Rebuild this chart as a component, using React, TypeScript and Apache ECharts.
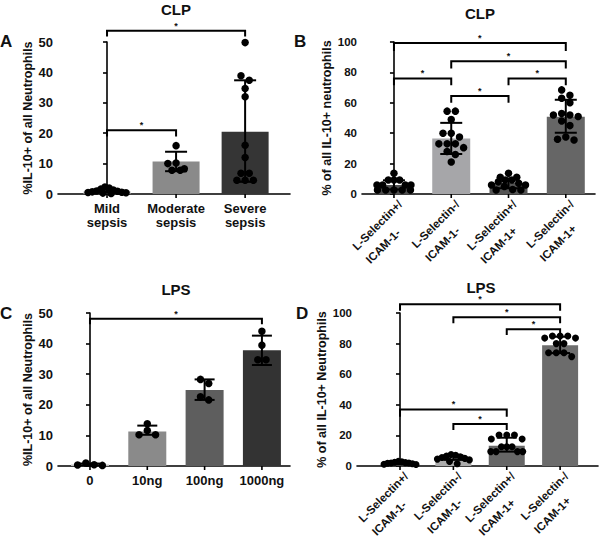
import React, { useEffect, useRef } from "react";
import * as echarts from "echarts";

const FONT = "'Liberation Sans', Arial, sans-serif";

// ---------- Panel A (CLP, sepsis severity) ----------
const aCategories = ["Mild\nsepsis", "Moderate\nsepsis", "Severe\nsepsis"];
const aMeans = [0.9, 10.7, 20.5];
const aErrLow = [0.4, 7.5, 4.0];
const aErrHigh = [1.5, 13.9, 37.4];
const aDots = [
  [2.3, 2.0, 1.6, 1.3, 1.0, 0.9, 0.7, 0.6, 0.5, 0.4, 0.3, 0.2],
  [15.9, 10.2, 10.0, 8.3, 7.8, 7.8],
  [49.8, 38.9, 37.4, 34.7, 32.0, 16.0, 12.0, 6.8, 6.8, 4.5, 4.5, 4.5],
];
const aBrackets = [
  [0, 2, 53.7, 51.8],
  [0, 1, 21.0, 18.9],
];

// ---------- Panel B (CLP, L-Selectin / ICAM-1) ----------
const bCategories = ["L-Selectin+/\nICAM-1-", "L-Selectin-/\nICAM-1-", "L-Selectin+/\nICAM-1+", "L-Selectin-/\nICAM-1+"];
const bMeans = [5.9, 36.5, 7.2, 50.8];
const bErrLow = [3.0, 26.3, 3.8, 40.3];
const bErrHigh = [9.0, 46.8, 10.3, 62.0];
const bDots = [
  [13.6, 9.2, 9.2, 9.2, 5.9, 5.9, 5.9, 5.9, 2.6, 2.6, 2.6, 2.6, 2.6],
  [54.5, 54.5, 49.0, 40.0, 40.0, 37.5, 33.0, 33.0, 33.0, 30.5, 28.0, 26.0, 21.0],
  [13.6, 11.0, 11.0, 9.2, 9.2, 8.0, 7.0, 5.9, 5.9, 5.0, 3.0, 2.6, 2.6],
  [68.5, 65.0, 63.0, 60.0, 53.0, 52.0, 52.0, 51.0, 48.0, 45.0, 37.5, 36.0, 35.5],
];
const bBrackets = [
  [0, 3, 99.3, 94.0],
  [1, 3, 87.3, 82.5],
  [0, 1, 76.0, 71.5],
  [2, 3, 76.0, 71.5],
  [1, 2, 64.5, 60.0],
];

// ---------- Panel C (LPS dose) ----------
const cCategories = ["0", "10ng", "100ng", "1000ng"];
const cMeans = [0.5, 11.3, 24.8, 37.8];
const cErrLow = [0.2, 10.2, 21.6, 33.0];
const cErrHigh = [0.8, 13.2, 28.3, 42.6];
const cDots = [
  [0.2, 1.0, 0.3, 0.4],
  [13.8, 11.6, 10.2, 10.2],
  [28.3, 27.0, 22.6, 21.6],
  [44.0, 39.5, 34.7, 34.7],
];
const cBrackets = [[0, 3, 48.1, 46.3]];

// ---------- Panel D (LPS, L-Selectin / ICAM-1) ----------
const dCategories = ["L-Selectin+/\nICAM-1-", "L-Selectin-/\nICAM-1-", "L-Selectin+/\nICAM-1+", "L-Selectin-/\nICAM-1+"];
const dMeans = [2.0, 5.5, 13.3, 79.0];
const dErrLow = [1.2, 4.0, 9.4, 73.8];
const dErrHigh = [2.8, 7.0, 18.5, 84.5];
const dDots = [
  [3.0, 2.8, 2.5, 2.2, 2.0, 2.0, 1.8, 1.5, 1.2, 1.0],
  [7.5, 7.0, 6.5, 6.0, 5.5, 5.0, 4.5, 4.0, 3.0, 1.5],
  [20.3, 20.3, 20.3, 17.6, 17.6, 12.6, 12.6, 12.6, 9.4, 9.4, 9.4, 9.4],
  [85.0, 85.0, 85.0, 83.6, 83.6, 80.0, 80.0, 74.0, 74.0, 74.0, 71.5],
];
const dBrackets = [
  [0, 3, 105.7, 101.5],
  [1, 3, 97.2, 93.3],
  [2, 3, 89.3, 85.6],
  [0, 2, 37.0, 32.2],
  [1, 2, 27.5, 23.5],
];

const titles = ["CLP", "CLP", "LPS", "LPS"];
const letters = ["A", "B", "C", "D"];
const yNames = [
  "%IL-10+ of all Neutrophils",
  "% of all IL-10+ neutrophils",
  "%IL-10+ of all Neutrophils",
  "% of all IL-10+ Neutrophils",
];

// styling / layout (not data)
const colorsA = ["#bdbdbd", "#8a8a8a", "#353535"];
const colorsB = ["#4d4d4d", "#a6a6a9", "#555555", "#666666"];
const colorsC = ["#bdbdbd", "#8a8a8a", "#5e5e5e", "#333333"];
const colorsD = ["#4d4d4d", "#ababab", "#666666", "#6c6c6c"];

type Layout = {
  left: number; top: number; width: number; height: number;
  xMin: number; xMax: number; yMax: number; yInterval: number;
  barWidth: number; dot: number; capHalf: number; swarmWidth: number;
  nameGap: number; tickFont: number; catFont: number; rotated: boolean;
  titleX: number; titleY: number; letterX: number; letterY: number;
};

const layouts: Layout[] = [
  { left: 58, top: 42, width: 232, height: 152, xMin: -0.71, xMax: 2.65, yMax: 50, yInterval: 10,
    barWidth: 47, dot: 7.5, capHalf: 11, swarmWidth: 38, nameGap: 18, tickFont: 13, catFont: 13, rotated: false,
    titleX: 176, titleY: 9, letterX: 0, letterY: 41 },
  { left: 362, top: 42, width: 233, height: 152, xMin: -0.558, xMax: 3.51, yMax: 100, yInterval: 20,
    barWidth: 38, dot: 7.5, capHalf: 11, swarmWidth: 34, nameGap: 20, tickFont: 11.5, catFont: 11.5, rotated: true,
    titleX: 480, titleY: 13, letterX: 294, letterY: 41 },
  { left: 58, top: 313, width: 232, height: 153, xMin: -0.558, xMax: 3.49, yMax: 50, yInterval: 10,
    barWidth: 38, dot: 7.5, capHalf: 10, swarmWidth: 32, nameGap: 18.5, tickFont: 13, catFont: 13, rotated: false,
    titleX: 176, titleY: 289, letterX: 0, letterY: 313 },
  { left: 357, top: 313, width: 241, height: 153, xMin: -0.806, xMax: 3.71, yMax: 100, yInterval: 20,
    barWidth: 36, dot: 7, capHalf: 10, swarmWidth: 32, nameGap: 18.5, tickFont: 11.5, catFont: 11.5, rotated: true,
    titleX: 481, titleY: 287, letterX: 296, letterY: 313 },
];

const panels = [
  { categories: aCategories, means: aMeans, errLow: aErrLow, errHigh: aErrHigh, dots: aDots, brackets: aBrackets, colors: colorsA },
  { categories: bCategories, means: bMeans, errLow: bErrLow, errHigh: bErrHigh, dots: bDots, brackets: bBrackets, colors: colorsB },
  { categories: cCategories, means: cMeans, errLow: cErrLow, errHigh: cErrHigh, dots: cDots, brackets: cBrackets, colors: colorsC },
  { categories: dCategories, means: dMeans, errLow: dErrLow, errHigh: dErrHigh, dots: dDots, brackets: dBrackets, colors: colorsD },
];

// row-based dot layout (like a scatter dot plot): points with similar values share a row,
// spread horizontally with the highest ones in the middle; returns horizontal pixel offsets
function swarm(values: number[], pxPerY: number, size: number, maxWidth: number): number[] {
  const order = values.map((_, i) => i).sort((a, b) => values[b] - values[a]);
  const offs = new Array(values.length).fill(0);
  const rows: number[][] = [];
  let cur: number[] = [];
  let rowTop = 0;
  for (const i of order) {
    const y = values[i] * pxPerY;
    if (cur.length && rowTop - y < size * 0.8) cur.push(i);
    else {
      if (cur.length) rows.push(cur);
      cur = [i];
      rowTop = y;
    }
  }
  if (cur.length) rows.push(cur);
  for (const row of rows) {
    const n = row.length;
    const spacing = n > 1 ? Math.min(size * 1.1, maxWidth / (n - 1)) : 0;
    // slots ordered from centre outwards
    const slots = row.map((_, k) => k - (n - 1) / 2).sort((a, b) => Math.abs(a) - Math.abs(b) || a - b);
    row.forEach((i, k) => (offs[i] = slots[k] * spacing));
  }
  return offs;
}

let measureCtx: CanvasRenderingContext2D | null = null;
function textWidth(t: string, font: string): number {
  if (!measureCtx) measureCtx = document.createElement("canvas").getContext("2d");
  if (!measureCtx) return t.length * 6;
  measureCtx.font = font;
  return measureCtx.measureText(t).width;
}

function buildOption() {
  const grid: any[] = [];
  const xAxis: any[] = [];
  const yAxis: any[] = [];
  const series: any[] = [];
  const graphic: any[] = [];

  panels.forEach((p, gi) => {
    const L = layouts[gi];
    grid.push({ left: L.left, top: L.top, width: L.width, height: L.height });
    xAxis.push({
      type: "value", gridIndex: gi, min: L.xMin, max: L.xMax,
      axisLine: { show: true, onZero: false, lineStyle: { color: "#000", width: 1.6 } },
      axisTick: { show: false }, axisLabel: { show: false }, splitLine: { show: false },
    });
    yAxis.push({
      type: "value", gridIndex: gi, min: 0, max: L.yMax, interval: L.yInterval,
      name: yNames[gi], nameLocation: "middle", nameGap: L.nameGap,
      nameTextStyle: { fontFamily: FONT, fontWeight: "bold", fontSize: 12.5, color: "#111" },
      axisLine: { show: true, lineStyle: { color: "#000", width: 1.6 } },
      axisTick: { show: true, length: 4, lineStyle: { color: "#000", width: 1.6 } },
      axisLabel: { fontFamily: FONT, fontWeight: "bold", fontSize: L.tickFont, color: "#111", margin: 5 },
      splitLine: { show: false },
    });

    const pxPerY = L.height / L.yMax;
    const pxPerX = L.width / (L.xMax - L.xMin);

    // bars
    series.push({
      type: "bar", xAxisIndex: gi, yAxisIndex: gi, barWidth: L.barWidth, z: 2, silent: true,
      data: p.means.map((m, j) => ({ value: [j, m], itemStyle: { color: p.colors[j] } })),
    });

    // dots
    const dotData: number[][] = [];
    p.dots.forEach((vals, j) => {
      const offs = swarm(vals, pxPerY, L.dot, L.swarmWidth);
      vals.forEach((v, k) => dotData.push([j + offs[k] / pxPerX, v]));
    });
    series.push({
      type: "scatter", xAxisIndex: gi, yAxisIndex: gi, symbol: "circle", symbolSize: L.dot, z: 3,
      silent: true, itemStyle: { color: "#000", opacity: 1 }, data: dotData,
    });

    // error bars
    const cap = L.capHalf;
    series.push({
      type: "custom", xAxisIndex: gi, yAxisIndex: gi, z: 4, silent: true,
      encode: { x: 0, y: [1, 2] },
      data: p.means.map((_, j) => [j, p.errLow[j], p.errHigh[j]]),
      renderItem: (params: any, api: any) => {
        const x = api.value(0);
        const lo = api.coord([x, api.value(1)]);
        const hi = api.coord([x, api.value(2)]);
        const style = { stroke: "#000", lineWidth: 2 };
        return {
          type: "group",
          children: [
            { type: "line", shape: { x1: lo[0], y1: lo[1], x2: hi[0], y2: hi[1] }, style },
            { type: "line", shape: { x1: hi[0] - cap, y1: hi[1], x2: hi[0] + cap, y2: hi[1] }, style },
            { type: "line", shape: { x1: lo[0] - cap, y1: lo[1], x2: lo[0] + cap, y2: lo[1] }, style },
          ],
        };
      },
    });

    // significance brackets
    series.push({
      type: "custom", xAxisIndex: gi, yAxisIndex: gi, z: 5, silent: true, clip: false,
      encode: { x: [0, 1], y: 2 },
      data: p.brackets,
      renderItem: (params: any, api: any) => {
        const x1 = api.value(0), x2 = api.value(1), lvl = api.value(2), drop = api.value(3);
        const a = api.coord([x1, lvl]);
        const b = api.coord([x2, lvl]);
        const d = api.coord([x1, drop]);
        return {
          type: "group",
          children: [
            {
              type: "polyline",
              shape: { points: [[a[0], d[1]], [a[0], a[1]], [b[0], b[1]], [b[0], d[1]]] },
              style: { stroke: "#000", lineWidth: 2, fill: "none" },
            },
            {
              type: "text", x: (a[0] + b[0]) / 2, y: a[1] - 1,
              style: { text: "*", fontSize: 9, lineHeight: 8, fontFamily: FONT, fontWeight: "bold", fill: "#111", align: "center", verticalAlign: "bottom" },
            },
          ],
        };
      },
    });

    // category ticks and labels
    const catFont = `bold ${L.catFont}px 'Liberation Sans'`;
    series.push({
      type: "custom", xAxisIndex: gi, yAxisIndex: gi, z: 5, silent: true, clip: false,
      encode: { x: 0, y: 1 },
      data: p.categories.map((_, j) => [j, 0]),
      renderItem: (params: any, api: any) => {
        const idx = params.dataIndex;
        const pt = api.coord([api.value(0), 0]);
        const label = p.categories[idx];
        const children: any[] = [
          { type: "line", shape: { x1: pt[0], y1: pt[1], x2: pt[0], y2: pt[1] + 4 }, style: { stroke: "#000", lineWidth: 1.6 } },
        ];
        const base = { fontSize: L.catFont, fontFamily: FONT, fontWeight: "bold", fill: "#111" };
        if (!L.rotated) {
          children.push({
            type: "text", x: pt[0], y: pt[1] + 7,
            style: { ...base, text: label, align: "center", verticalAlign: "top", lineHeight: 14 },
          });
        } else {
          const lines = label.split("\n");
          const c = Math.SQRT1_2;
          const w1 = textWidth(lines[0], catFont);
          const lh = 19;
          const ax = pt[0] + 2, ay = pt[1] + 4;
          const sx = ax - w1 * c, sy = ay + w1 * c;
          children.push({
            type: "text", x: ax, y: ay, rotation: Math.PI / 4,
            style: { ...base, text: lines[0], align: "right", verticalAlign: "top" },
          });
          children.push({
            type: "text", x: sx + lh * c, y: sy + lh * c, rotation: Math.PI / 4,
            style: { ...base, text: lines[1], align: "left", verticalAlign: "top" },
          });
        }
        return { type: "group", children };
      },
    });

    graphic.push({
      type: "text", x: L.titleX, y: L.titleY,
      style: { text: titles[gi], fontSize: 15, fontWeight: "bold", fontFamily: FONT, fill: "#111", align: "center", verticalAlign: "middle" },
    });
    graphic.push({
      type: "text", x: L.letterX, y: L.letterY,
      style: { text: letters[gi], fontSize: 17, fontWeight: "bold", fontFamily: FONT, fill: "#111", align: "left", verticalAlign: "middle" },
    });
  });

  return { animation: false, backgroundColor: "#fff", grid, xAxis, yAxis, series, graphic };
}

export default function App() {
  const ref = useRef<HTMLDivElement>(null);
  useEffect(() => {
    if (!ref.current) return;
    const chart = echarts.init(ref.current, undefined, { renderer: "svg" });
    chart.setOption(buildOption() as any);
    return () => chart.dispose();
  }, []);
  return <div ref={ref} style={{ position: "absolute", left: 0, top: 0, width: 600, height: 546, background: "#fff" }} />;
}
